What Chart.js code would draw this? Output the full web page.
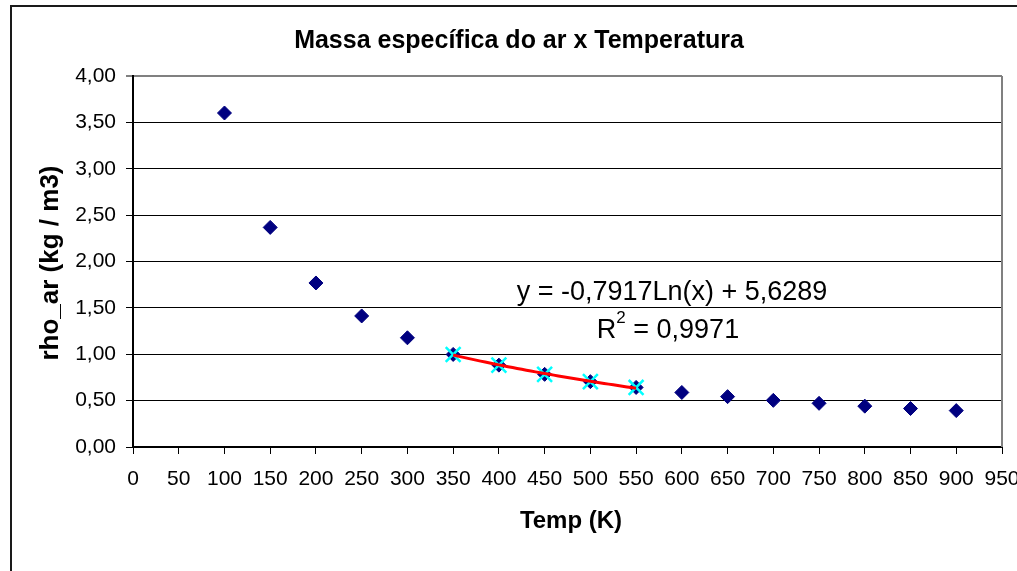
<!DOCTYPE html>
<html>
<head>
<meta charset="utf-8">
<title>Massa específica do ar x Temperatura</title>
<script src="https://cdn.jsdelivr.net/npm/chart.js@4"></script>
<style>
  html, body { margin: 0; padding: 0; background: #ffffff; }
  canvas { display: block; }
</style>
</head>
<body>
<canvas id="chart" width="1017" height="571"></canvas>
<script>
// Air density (kg/m3) against temperature (K)
const temps = [100, 150, 200, 250, 300, 350, 400, 450, 500, 550, 600, 650, 700, 750, 800, 850, 900];
const rhoAr = [3.601, 2.3675, 1.7684, 1.4128, 1.1774, 0.998, 0.8826, 0.7833, 0.7048, 0.6423, 0.5879, 0.543, 0.503, 0.4709, 0.4405, 0.4149, 0.3925];

// Range used for the logarithmic fit
const fitFrom = 350;
const fitTo = 550;
const fitA = -0.7917;
const fitB = 5.6289;
const fitR2 = '0,9971';

// Axis ticks and their labels
const xTicks = [0, 50, 100, 150, 200, 250, 300, 350, 400, 450, 500, 550, 600, 650, 700, 750, 800, 850, 900, 950];
const yTicks = [0, 0.5, 1, 1.5, 2, 2.5, 3, 3.5, 4];
const yTickLabels = ['0,00', '0,50', '1,00', '1,50', '2,00', '2,50', '3,00', '3,50', '4,00'];

const titleText = 'Massa específica do ar x Temperatura';
const xTitle = 'Temp (K)';
const yTitle = 'rho_ar (kg / m3)';
const eqText = 'y = -0,7917Ln(x) + 5,6289';

const FONT = '"Liberation Sans", Arial, sans-serif';

const points = temps.map((t, i) => ({ x: t, y: rhoAr[i] }));
const fitPoints = points.filter(p => p.x >= fitFrom && p.x <= fitTo);

// Trend curve y = a*ln(x) + b drawn over the fitted range
const trend = [];
for (let t = fitFrom; t <= fitTo; t += 5) {
  trend.push({ x: t, y: fitA * Math.log(t) + fitB });
}

const frameAndText = {
  id: 'frameAndText',
  beforeDraw(chart) {
    const c = chart.ctx;
    c.save();
    c.fillStyle = '#ffffff';
    c.fillRect(0, 0, chart.width, chart.height);
    c.strokeStyle = '#1a1a1a';
    c.lineWidth = 2;
    c.strokeRect(11, 6, 1200, 800);
    c.restore();
  },
  beforeDatasetsDraw(chart) {
    const c = chart.ctx;
    const a = chart.chartArea;
    c.save();
    c.strokeStyle = '#808080';
    c.lineWidth = 2;
    c.beginPath();
    c.moveTo(a.right, a.top);
    c.lineTo(a.right, a.bottom);
    c.stroke();
    c.restore();
  },
  afterDraw(chart) {
    const c = chart.ctx;
    c.save();
    c.fillStyle = '#000000';
    c.textBaseline = 'alphabetic';

    c.font = 'bold 25px ' + FONT;
    c.textAlign = 'center';
    c.fillText(titleText, 519, 48);

    c.font = 'bold 24px ' + FONT;
    c.fillText(xTitle, 571, 528);

    c.save();
    c.translate(58, 263);
    c.rotate(-Math.PI / 2);
    c.font = 'bold 26px ' + FONT;
    c.fillText(yTitle, 0, 0);
    c.restore();

    // fit equation and R²
    c.font = '27px ' + FONT;
    c.textAlign = 'center';
    c.fillText(eqText, 672, 300);

    c.textAlign = 'left';
    const big = '27px ' + FONT;
    const small = '17px ' + FONT;
    c.font = big;
    const wR = c.measureText('R').width;
    const rest = ' = ' + fitR2;
    const wRest = c.measureText(rest).width;
    c.font = small;
    const w2 = c.measureText('2').width;
    const total = wR + w2 + wRest;
    let x = 668 - total / 2;
    c.font = big;
    c.fillText('R', x, 338);
    x += wR;
    c.font = small;
    c.fillText('2', x, 323);
    x += w2;
    c.font = big;
    c.fillText(rest, x, 338);
    c.restore();
  }
};

new Chart(document.getElementById('chart'), {
  type: 'scatter',
  data: {
    datasets: [
      {
        label: 'Log',
        type: 'line',
        data: trend,
        showLine: true,
        borderColor: '#ff0000',
        borderWidth: 3,
        pointRadius: 0,
        tension: 0,
        fill: false
      },
      {
        label: 'Ajuste',
        data: fitPoints,
        pointStyle: 'crossRot',
        pointRadius: 10.5,
        borderColor: '#00ffff',
        backgroundColor: '#00ffff',
        pointBorderWidth: 2.5
      },
      {
        label: 'rho_ar',
        data: points,
        pointStyle: 'rectRot',
        pointRadius: 7,
        borderColor: '#000080',
        backgroundColor: '#000080',
        pointBorderWidth: 1
      }
    ]
  },
  options: {
    responsive: false,
    animation: false,
    devicePixelRatio: 1,
    layout: { padding: { left: 0, top: 76, right: 15, bottom: 0 } },
    plugins: {
      legend: { display: false },
      title: { display: false },
      tooltip: { enabled: false }
    },
    scales: {
      x: {
        type: 'linear',
        min: 0,
        max: 950,
        afterBuildTicks(scale) { scale.ticks = xTicks.map(v => ({ value: v })); },
        afterFit(scale) {
          scale.height = 124;
          scale.paddingLeft = 0;
          scale.paddingRight = 0;
        },
        grid: { display: true, drawOnChartArea: false, drawTicks: true, tickLength: 7, color: '#000000', lineWidth: 1 },
        border: { display: true, color: '#000000', width: 2 },
        ticks: {
          autoSkip: false,
          maxRotation: 0,
          padding: 13,
          color: '#000000',
          font: { family: FONT, size: 21 },
          callback: (v) => String(v)
        }
      },
      y: {
        type: 'linear',
        min: 0,
        max: 4,
        afterBuildTicks(scale) { scale.ticks = yTicks.map(v => ({ value: v })); },
        afterFit(scale) {
          scale.width = 133;
          scale.paddingTop = 0;
          scale.paddingBottom = 0;
        },
        grid: {
          display: true,
          drawTicks: true,
          tickLength: 7,
          color: (ctx) => (ctx.tick && ctx.tick.value === 4 ? '#808080' : '#000000'),
          lineWidth: (ctx) => (ctx.tick && ctx.tick.value === 4 ? 2 : 1)
        },
        border: { display: true, color: '#000000', width: 2 },
        ticks: {
          autoSkip: false,
          padding: 10,
          color: '#000000',
          font: { family: FONT, size: 21 },
          callback: (v, i) => yTickLabels[i]
        }
      }
    }
  },
  plugins: [frameAndText]
});
</script>
</body>
</html>
